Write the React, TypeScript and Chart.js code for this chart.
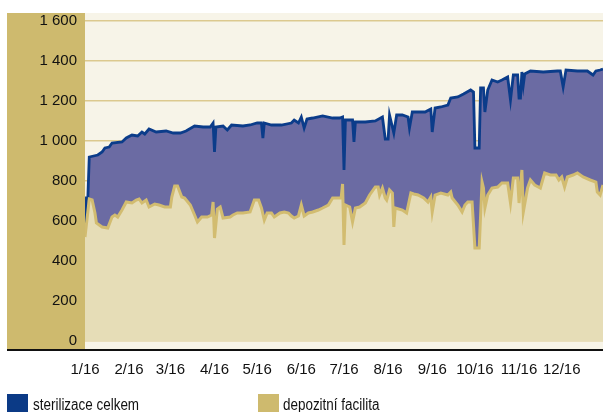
import React, { useEffect, useRef } from "react";
import { Chart, registerables } from "chart.js";

Chart.register(...registerables);

// 2016, x = day of year (0 = 1 Jan)
const monthStartDays = [0, 31, 60, 91, 121, 152, 182, 213, 244, 274, 305, 335];
const monthLabels = ["1/16", "2/16", "3/16", "4/16", "5/16", "6/16", "7/16", "8/16", "9/16", "10/16", "11/16", "12/16"];
const yTicks = [0, 200, 400, 600, 800, 1000, 1200, 1400, 1600];

const sterilizaceDays = [0,1,2,3,9,12,14,17,19,26,29,33,37,40,42,45,50,57,62,67,71,77,83,88,90,91,92,97,100,103,111,116,121,124,125,126,131,138,145,147,150,152,154,156,160,167,174,179,181,182,183,188,189,190,197,204,209,211,213,214,217,219,223,227,228,230,234,239,243,244,246,250,255,257,262,266,271,273,274,277,278,280,281,283,286,290,293,297,299,301,304,305,306,307,308,309,313,322,332,334,336,338,346,353,357,359,362,364];
const sterilizaceValues = [520,715,715,920,930,945,965,970,990,995,1015,1030,1025,1045,1035,1060,1045,1050,1040,1040,1050,1075,1070,1070,1090,945,1070,1075,1055,1080,1075,1080,1090,1090,1015,1090,1080,1080,1090,1105,1090,1120,1065,1110,1115,1125,1115,1115,1120,855,1105,1105,995,1095,1095,1100,1120,1010,1010,1130,1040,1130,1130,1120,1065,1145,1145,1145,1160,1045,1165,1170,1180,1215,1220,1235,1255,1245,965,965,1265,1265,1145,1255,1305,1295,1305,1320,1205,1330,1330,1215,1215,1345,1280,1335,1350,1345,1350,1350,1270,1355,1350,1350,1330,1350,1355,1360];

const depozitniDays = [0,3,5,7,8,10,12,16,19,21,23,26,29,33,36,38,40,43,45,49,52,56,60,61,63,65,68,70,74,77,79,82,86,89,90,91,93,95,97,102,104,107,111,116,119,122,124,126,128,131,133,137,140,143,145,147,150,152,154,157,160,164,167,171,174,178,180,181,182,183,186,188,190,193,197,200,204,206,207,209,211,212,214,216,217,218,223,226,229,231,234,238,241,243,244,246,250,255,257,258,262,265,267,269,272,274,277,279,280,281,283,286,290,293,297,299,301,304,305,307,308,311,313,316,320,323,327,331,333,335,337,339,343,346,350,355,359,360,362,364];
const depozitniValues = [520,710,705,640,590,580,570,565,620,630,620,655,695,690,705,710,690,705,670,685,680,670,670,720,775,775,720,715,680,630,595,620,620,630,695,515,660,670,615,620,630,640,640,645,705,705,665,605,640,640,620,640,645,640,625,615,625,680,625,640,645,655,665,680,715,715,715,785,480,680,670,595,665,670,690,730,770,770,730,765,715,705,755,740,570,665,655,640,740,735,730,715,695,720,645,730,740,730,745,715,680,645,680,695,695,465,465,795,765,665,730,765,770,790,790,690,815,815,690,855,645,765,805,780,765,840,830,830,805,820,770,820,830,840,820,805,795,745,730,780];

const FONT = "'Liberation Sans', Arial, sans-serif";
const PANEL = "#CEBA6E";
const PLOT_BG = "#F7F4E8";
const GRID = "#DCC98F";
const BLUE_LINE = "#0B3C8A";
const BLUE_FILL = "#6B6BA3";
const GOLD_LINE = "#D2BC70";
const GOLD_FILL = "#E6DDB7";

const backgroundPlugin = {
  id: "bgPanels",
  beforeDraw(chart: any) {
    const { ctx, chartArea } = chart;
    ctx.save();
    ctx.fillStyle = PLOT_BG;
    ctx.fillRect(chartArea.left, chartArea.top, chartArea.right - chartArea.left, chartArea.bottom - chartArea.top + 1);
    ctx.fillStyle = PANEL;
    ctx.fillRect(7, chartArea.top, chartArea.left - 7, chartArea.bottom - chartArea.top + 1);
    ctx.restore();
  },
  afterDraw(chart: any) {
    const { ctx, chartArea } = chart;
    ctx.save();
    ctx.strokeStyle = "#111111";
    ctx.lineWidth = 2.2;
    ctx.beginPath();
    ctx.moveTo(7, chartArea.bottom + 2);
    ctx.lineTo(chart.width, chartArea.bottom + 2);
    ctx.stroke();
    ctx.restore();
  },
};

export default function App() {
  const ref = useRef<HTMLCanvasElement | null>(null);

  useEffect(() => {
    if (!ref.current) return;
    const chart = new Chart(ref.current, {
      type: "line",
      data: {
        datasets: [
          {
            label: "sterilizace celkem",
            data: sterilizaceDays.map((d, i) => ({ x: d, y: sterilizaceValues[i] })),
            borderColor: BLUE_LINE,
            backgroundColor: BLUE_FILL,
            borderWidth: 2.8,
            fill: "origin",
            pointRadius: 0,
            tension: 0,
            order: 2,
          },
          {
            label: "depozitní facilita",
            data: depozitniDays.map((d, i) => ({ x: d, y: depozitniValues[i] })),
            borderColor: GOLD_LINE,
            backgroundColor: GOLD_FILL,
            borderWidth: 3,
            fill: "origin",
            pointRadius: 0,
            tension: 0,
            order: 1,
          },
        ],
      },
      options: {
        animation: false,
        responsive: false,
        maintainAspectRatio: false,
        layout: { padding: { top: 13, left: 7, right: 0, bottom: 0 } },
        plugins: { legend: { display: false }, tooltip: { enabled: false } },
        scales: {
          x: {
            type: "linear",
            min: 0,
            max: 364,
            grid: { display: false },
            border: { display: false },
            afterBuildTicks: (scale: any) => {
              scale.ticks = monthStartDays.map((v) => ({ value: v }));
            },
            afterFit: (scale: any) => {
              scale.height = 64;
              scale.paddingLeft = 0;
              scale.paddingRight = 0;
            },
            ticks: {
              autoSkip: false,
              maxRotation: 0,
              padding: 5,
              color: "#111111",
              font: { family: FONT, size: 15 },
              callback: (v: any) => {
                const i = monthStartDays.indexOf(Number(v));
                return i >= 0 ? monthLabels[i] : "";
              },
            },
          },
          y: {
            min: -35,
            max: 1640,
            grid: { color: GRID, lineWidth: 1.6, drawTicks: false },
            border: { display: false },
            afterBuildTicks: (scale: any) => {
              scale.ticks = yTicks.map((v) => ({ value: v }));
            },
            afterFit: (scale: any) => {
              scale.width = 78;
              scale.paddingTop = 0;
              scale.paddingBottom = 0;
            },
            ticks: {
              padding: 8,
              color: "#111111",
              font: { family: FONT, size: 15 },
              callback: (v: any) => String(v).replace(/\B(?=(\d{3})+(?!\d))/g, " "),
            },
          },
        },
      },
      plugins: [backgroundPlugin],
    });
    return () => chart.destroy();
  }, []);

  const legendText: React.CSSProperties = {
    position: "absolute",
    top: 395,
    fontFamily: FONT,
    fontSize: 16,
    lineHeight: "20px",
    color: "#111111",
    whiteSpace: "nowrap",
    transform: "scaleX(0.84)",
    transformOrigin: "0 50%",
  };

  return (
    <div style={{ position: "absolute", left: 0, top: 0, width: 603, height: 412, background: "#ffffff", overflow: "hidden" }}>
      <canvas ref={ref} width={603} height={412} style={{ position: "absolute", left: 0, top: 0, width: 603, height: 412 }} />
      <div style={{ position: "absolute", left: 7, top: 394, width: 21, height: 20, background: "#0B3A86" }} />
      <div style={{ ...legendText, left: 33 }}>sterilizace celkem</div>
      <div style={{ position: "absolute", left: 258, top: 394, width: 21, height: 20, background: PANEL }} />
      <div style={{ ...legendText, left: 283 }}>depozitní facilita</div>
    </div>
  );
}
